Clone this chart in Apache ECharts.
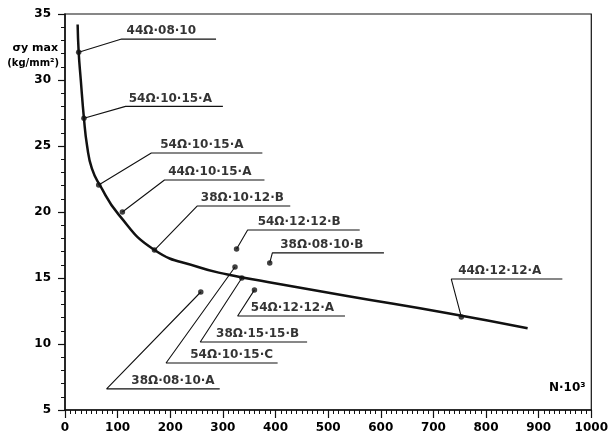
<!DOCTYPE html>
<html lang="en">
<head>
  <meta charset="UTF-8">
  <title>σy max vs N</title>
  <script src="https://cdn.jsdelivr.net/npm/echarts@6/dist/echarts.min.js"></script>
  <style>
    * { margin: 0; padding: 0; }
    body { background: #fff; }
    #chart { width: 611px; height: 439px; }
  </style>
</head>
<body>
  <div id="chart"></div>
  <script>
    // main curve (N·10^3, kg/mm²)
    const curveX = [24, 26, 30, 36, 42, 51, 66, 102, 170, 253, 309, 385, 536, 725, 879];
    const curveY = [34.2, 32.1, 30.0, 27.1, 25.0, 23.3, 22.05, 19.8, 17.12, 15.83, 15.27, 14.7, 13.64, 12.35, 11.2];

    // specimen tags
    const tagNames = ['44Ω·08·10', '54Ω·10·15·A', '54Ω·10·15·A', '44Ω·10·15·A', '38Ω·10·12·B', '54Ω·12·12·B',
      '38Ω·08·10·B', '44Ω·12·12·A', '54Ω·12·12·A', '38Ω·15·15·B', '54Ω·10·15·C', '38Ω·08·10·A'];
    const dotX = [26, 36, 64, 109, 170, 326, 389, 753, 360, 336, 323, 258];
    const dotY = [32.1, 27.1, 22.05, 20.0, 17.12, 17.2, 16.14, 12.05, 14.1, 15.0, 15.83, 13.94];
    // leader line: dot -> elbow -> end of underline
    const elbowX = [107.5, 115, 164, 189, 251, 347, 394, 734, 328, 257, 192, 79];
    const elbowY = [33.1, 28.0, 24.47, 22.42, 20.45, 18.64, 16.9, 14.92, 12.12, 10.15, 8.56, 6.6];
    const lineEndX = [287, 300, 375, 379, 428, 560, 606, 945, 532, 460, 404, 294];
    const labelX = [117, 121, 181, 196, 258, 366, 409, 747, 353, 287, 238, 126];

    const xTicks = [0, 100, 200, 300, 400, 500, 600, 700, 800, 900, 1000];
    const yTicks = [5, 10, 15, 20, 25, 30, 35];

    const ink = '#111';
    const font = 'DejaVu Sans';

    const chart = echarts.init(document.getElementById('chart'));

    const series = [];

    // 曲线
    series.push({
      type: 'line',
      data: curveX.map((x, i) => [x, curveY[i]]),
      smooth: 0.5,
      showSymbol: false,
      lineStyle: { color: ink, width: 2.5 },
      silent: true
    });

    // leader lines
    tagNames.forEach((name, i) => {
      series.push({
        type: 'line',
        data: [[dotX[i], dotY[i]], [elbowX[i], elbowY[i]], [lineEndX[i], elbowY[i]]],
        showSymbol: false,
        lineStyle: { color: ink, width: 1.1 },
        silent: true
      });
    });

    // dots
    series.push({
      type: 'scatter',
      data: dotX.map((x, i) => [x, dotY[i]]),
      symbolSize: 5.5,
      itemStyle: { color: ink },
      silent: true
    });

    // tag text
    series.push({
      type: 'scatter',
      data: tagNames.map((n, i) => ({ name: n, value: [labelX[i], elbowY[i]] })),
      symbolSize: 0,
      silent: true,
      label: {
        show: true,
        position: [0, 0],
        align: 'left',
        verticalAlign: 'bottom',
        offset: [0, -2],
        formatter: p => p.name,
        color: '#000',
        fontFamily: font,
        fontWeight: 'bold',
        fontSize: 12
      }
    });

    const option = {
      animation: false,
      backgroundColor: '#fff',
      grid: {
        left: 65, right: 15, top: 14, bottom: 29,
        show: true, borderColor: ink, borderWidth: 1.2
      },
      xAxis: {
        type: 'value',
        min: xTicks[0],
        max: xTicks[xTicks.length - 1],
        interval: 100,
        axisLine: { lineStyle: { color: ink, width: 1.5 } },
        axisTick: { length: 8, lineStyle: { color: ink, width: 1.2 } },
        minorTick: { show: true, splitNumber: 10, length: 4, lineStyle: { color: ink, width: 1 } },
        splitLine: { show: false },
        axisLabel: {
          margin: 12,
          color: '#000',
          fontFamily: font,
          fontWeight: 'bold',
          fontSize: 12,
          formatter: v => String(v),
          showMaxLabel: true,
          showMinLabel: true
        }
      },
      yAxis: {
        type: 'value',
        min: yTicks[0],
        max: yTicks[yTicks.length - 1],
        interval: 5,
        axisLine: { show: true, lineStyle: { color: ink, width: 1.5 } },
        axisTick: { show: true, length: 7, lineStyle: { color: ink, width: 1.2 } },
        minorTick: { show: true, splitNumber: 5, length: 4, lineStyle: { color: ink, width: 1 } },
        splitLine: { show: false },
        axisLabel: {
          margin: 14,
          color: '#000',
          fontFamily: font,
          fontWeight: 'bold',
          fontSize: 12
        }
      },
      graphic: [
        {
          type: 'text', right: 553, top: 43,
          style: { text: 'σy max', fill: '#000', font: 'bold 11px ' + font, textAlign: 'right' }
        },
        {
          type: 'text', right: 552, top: 58,
          style: { text: '(kg/mm²)', fill: '#000', font: 'bold 10px ' + font, textAlign: 'right' }
        },
        {
          type: 'text', left: 549, top: 382,
          style: { text: 'N·10³', fill: '#000', font: 'bold 12px ' + font }
        }
      ],
      series: series
    };

    chart.setOption(option);
  </script>
</body>
</html>
